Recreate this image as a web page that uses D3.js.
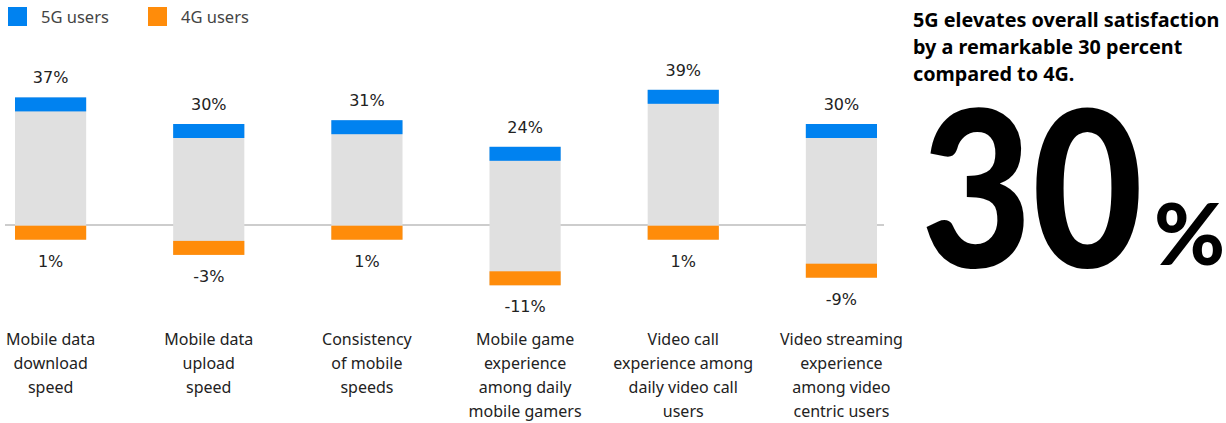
<!DOCTYPE html>
<html>
<head>
<meta charset="utf-8">
<script src="https://cdn.jsdelivr.net/npm/d3@7/dist/d3.min.js"></script>
<style>
  html, body { margin: 0; padding: 0; background: #fff; }
  svg { display: block; }
</style>
</head>
<body>
<svg id="chart" width="1226" height="423"></svg>
<script>
// ---- data ----
const categories = [
  "Mobile data download speed",
  "Mobile data upload speed",
  "Consistency of mobile speeds",
  "Mobile game experience among daily mobile gamers",
  "Video call experience among daily video call users",
  "Video streaming experience among video centric users"
];
const categoryLines = [
  ["Mobile data", "download", "speed"],
  ["Mobile data", "upload", "speed"],
  ["Consistency", "of mobile", "speeds"],
  ["Mobile game", "experience", "among daily", "mobile gamers"],
  ["Video call", "experience among", "daily video call", "users"],
  ["Video streaming", "experience", "among video", "centric users"]
];
const users5G = [37, 30, 31, 24, 39, 30];
const users4G = [1, -3, 1, -11, 1, -9];
const seriesNames = ["5G users", "4G users"];
const titleLines = ["5G elevates overall satisfaction", "by a remarkable 30 percent", "compared to 4G."];
const headline = "30";
const headlineUnit = "%";

// ---- styles ----
const BLUE = "#0082F0", ORANGE = "#FF8C0A", GREY = "#E0E0E0", LINE = "#BDBDBD";
const capH = 14;

const svg = d3.select("#chart");

const x = d3.scaleBand().domain(categories).range([15, 877]).paddingInner(0.55).paddingOuter(0);
const y = d3.scaleLinear().domain([-15, 45]).range([295, 67]);

const rows = categories.map((c, i) => ({ c, lines: categoryLines[i], v5: users5G[i], v4: users4G[i] }));

// reference line
const refY = y(0) - 13;
svg.append("line")
  .attr("x1", 5).attr("x2", 884)
  .attr("y1", refY).attr("y2", refY)
  .attr("stroke", LINE).attr("stroke-width", 1.5);

const g = svg.append("g").selectAll("g").data(rows).join("g");

const orangeBottom = d => y(d.v4) + 5.5;

// grey range bar
g.append("rect")
  .attr("x", d => x(d.c)).attr("width", x.bandwidth())
  .attr("y", d => y(d.v5))
  .attr("height", d => orangeBottom(d) - y(d.v5))
  .attr("fill", GREY);

// 5G cap
g.append("rect")
  .attr("x", d => x(d.c)).attr("width", x.bandwidth())
  .attr("y", d => y(d.v5)).attr("height", capH)
  .attr("fill", BLUE);

// 4G cap
g.append("rect")
  .attr("x", d => x(d.c)).attr("width", x.bandwidth())
  .attr("y", d => orangeBottom(d) - capH).attr("height", capH)
  .attr("fill", ORANGE);

// value labels
g.append("text")
  .attr("x", d => x(d.c) + x.bandwidth() / 2)
  .attr("y", d => y(d.v5) - 14)
  .attr("text-anchor", "middle")
  .attr("font-family", "'DejaVu Sans', sans-serif")
  .attr("font-size", 16)
  .attr("fill", "#222")
  .text(d => d.v5 + "%");

g.append("text")
  .attr("x", d => x(d.c) + x.bandwidth() / 2)
  .attr("y", d => orangeBottom(d) + 27)
  .attr("text-anchor", "middle")
  .attr("font-family", "'DejaVu Sans', sans-serif")
  .attr("font-size", 16)
  .attr("fill", "#222")
  .text(d => d.v4 + "%");

// category labels
g.append("text")
  .attr("text-anchor", "middle")
  .attr("font-family", "'Noto Sans', sans-serif")
  .attr("font-size", 16)
  .attr("fill", "#222")
  .selectAll("tspan")
  .data(d => d.lines.map((l, j) => ({ l, j, cx: x(d.c) + x.bandwidth() / 2 })))
  .join("tspan")
  .attr("x", d => d.cx)
  .attr("y", d => 345 + d.j * 24)
  .text(d => d.l);

// legend
const legend = svg.append("g").selectAll("g").data(seriesNames).join("g")
  .attr("transform", (d, i) => `translate(${8 + i * 140},7)`);
legend.append("rect").attr("width", 19).attr("height", 19)
  .attr("fill", (d, i) => i === 0 ? BLUE : ORANGE);
legend.append("text").attr("x", 33).attr("y", 16)
  .attr("font-family", "'Noto Sans', sans-serif")
  .attr("font-size", 16.5).attr("fill", "#444")
  .text(d => d);

// right side title
svg.append("text")
  .attr("font-family", "'Noto Sans', sans-serif")
  .attr("font-weight", 700)
  .attr("font-size", 19.8)
  .attr("fill", "#000")
  .selectAll("tspan").data(titleLines).join("tspan")
  .attr("x", 913).attr("y", (d, i) => 27 + i * 27)
  .text(d => d);

svg.append("text")
  .attr("x", 921).attr("y", 267)
  .attr("font-family", "Lato, sans-serif")
  .attr("font-weight", 900)
  .attr("font-size", 218)
  .attr("textLength", 222)
  .attr("lengthAdjust", "spacingAndGlyphs")
  .attr("fill", "#000")
  .text(headline);

svg.append("text")
  .attr("x", 1154).attr("y", 265)
  .attr("font-family", "Lato, sans-serif")
  .attr("font-weight", 900)
  .attr("font-size", 86)
  .attr("fill", "#000")
  .text(headlineUnit);
</script>
</body>
</html>
